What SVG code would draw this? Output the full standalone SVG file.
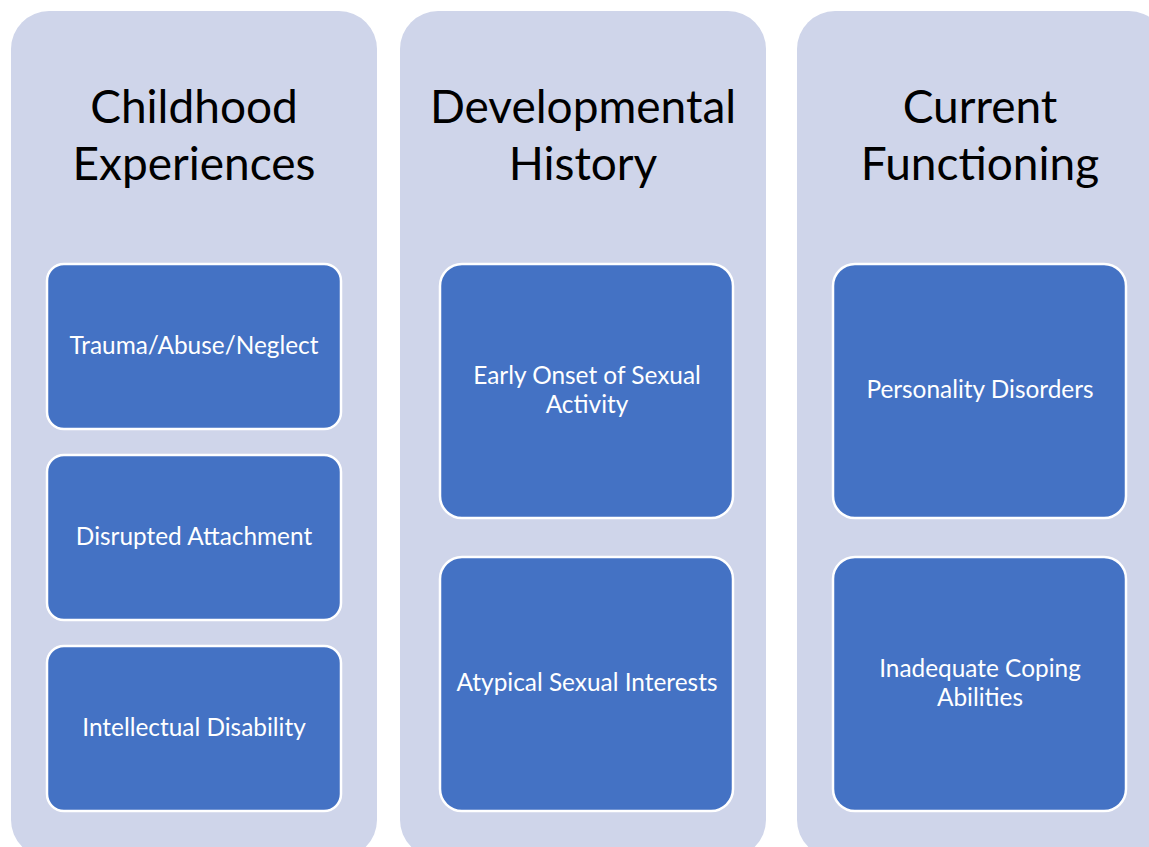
<svg xmlns="http://www.w3.org/2000/svg" width="1149" height="847" viewBox="0 0 1149 847">
  <style>
    .panel { fill: #CFD5EA; }
    .item { fill: #4472C4; stroke: #FFFFFF; stroke-width: 2.5; }
    .head { font-family: Lato, "Open Sans", "Liberation Sans", sans-serif; font-size: 46px; fill: #000000; text-anchor: middle; }
    .label { font-family: Lato, "Open Sans", "Liberation Sans", sans-serif; font-size: 24.4px; fill: #FFFFFF; text-anchor: middle; }
  </style>
  <rect width="1149" height="847" fill="#FFFFFF"/>

  <!-- Column 1: Childhood Experiences -->
  <g id="col-childhood">
    <rect class="panel" x="11" y="11" width="366" height="847" rx="38"/>
    <text class="head" x="194" y="123">Childhood</text>
    <text class="head" x="194" y="180">Experiences</text>
    <g id="node-trauma">
      <rect class="item" x="47" y="264" width="294" height="165" rx="17"/>
      <text class="label" x="194" y="354">Trauma/Abuse/Neglect</text>
    </g>
    <g id="node-attachment">
      <rect class="item" x="47" y="455" width="294" height="165" rx="17"/>
      <text class="label" x="194" y="545">Disrupted Attachment</text>
    </g>
    <g id="node-disability">
      <rect class="item" x="47" y="646" width="294" height="165" rx="17"/>
      <text class="label" x="194" y="736">Intellectual Disability</text>
    </g>
  </g>

  <!-- Column 2: Developmental History -->
  <g id="col-developmental">
    <rect class="panel" x="400" y="11" width="366" height="847" rx="38"/>
    <text class="head" x="583" y="123">Developmental</text>
    <text class="head" x="583" y="180">History</text>
    <g id="node-early-onset">
      <rect class="item" x="440" y="264" width="293" height="254" rx="22"/>
      <text class="label" x="587" y="384">Early Onset of Sexual</text>
      <text class="label" x="587" y="413">Activity</text>
    </g>
    <g id="node-atypical">
      <rect class="item" x="440" y="557" width="293" height="254" rx="22"/>
      <text class="label" x="587" y="691">Atypical Sexual Interests</text>
    </g>
  </g>

  <!-- Column 3: Current Functioning -->
  <g id="col-current">
    <rect class="panel" x="797" y="11" width="370" height="847" rx="38"/>
    <text class="head" x="980" y="123">Current</text>
    <text class="head" x="980" y="180">Functioning</text>
    <g id="node-personality">
      <rect class="item" x="833" y="264" width="293" height="254" rx="22"/>
      <text class="label" x="980" y="398">Personality Disorders</text>
    </g>
    <g id="node-coping">
      <rect class="item" x="833" y="557" width="293" height="254" rx="22"/>
      <text class="label" x="980" y="677">Inadequate Coping</text>
      <text class="label" x="980" y="706">Abilities</text>
    </g>
  </g>

  <!-- no connectors in this layout -->
  <g id="connectors"/>
</svg>
